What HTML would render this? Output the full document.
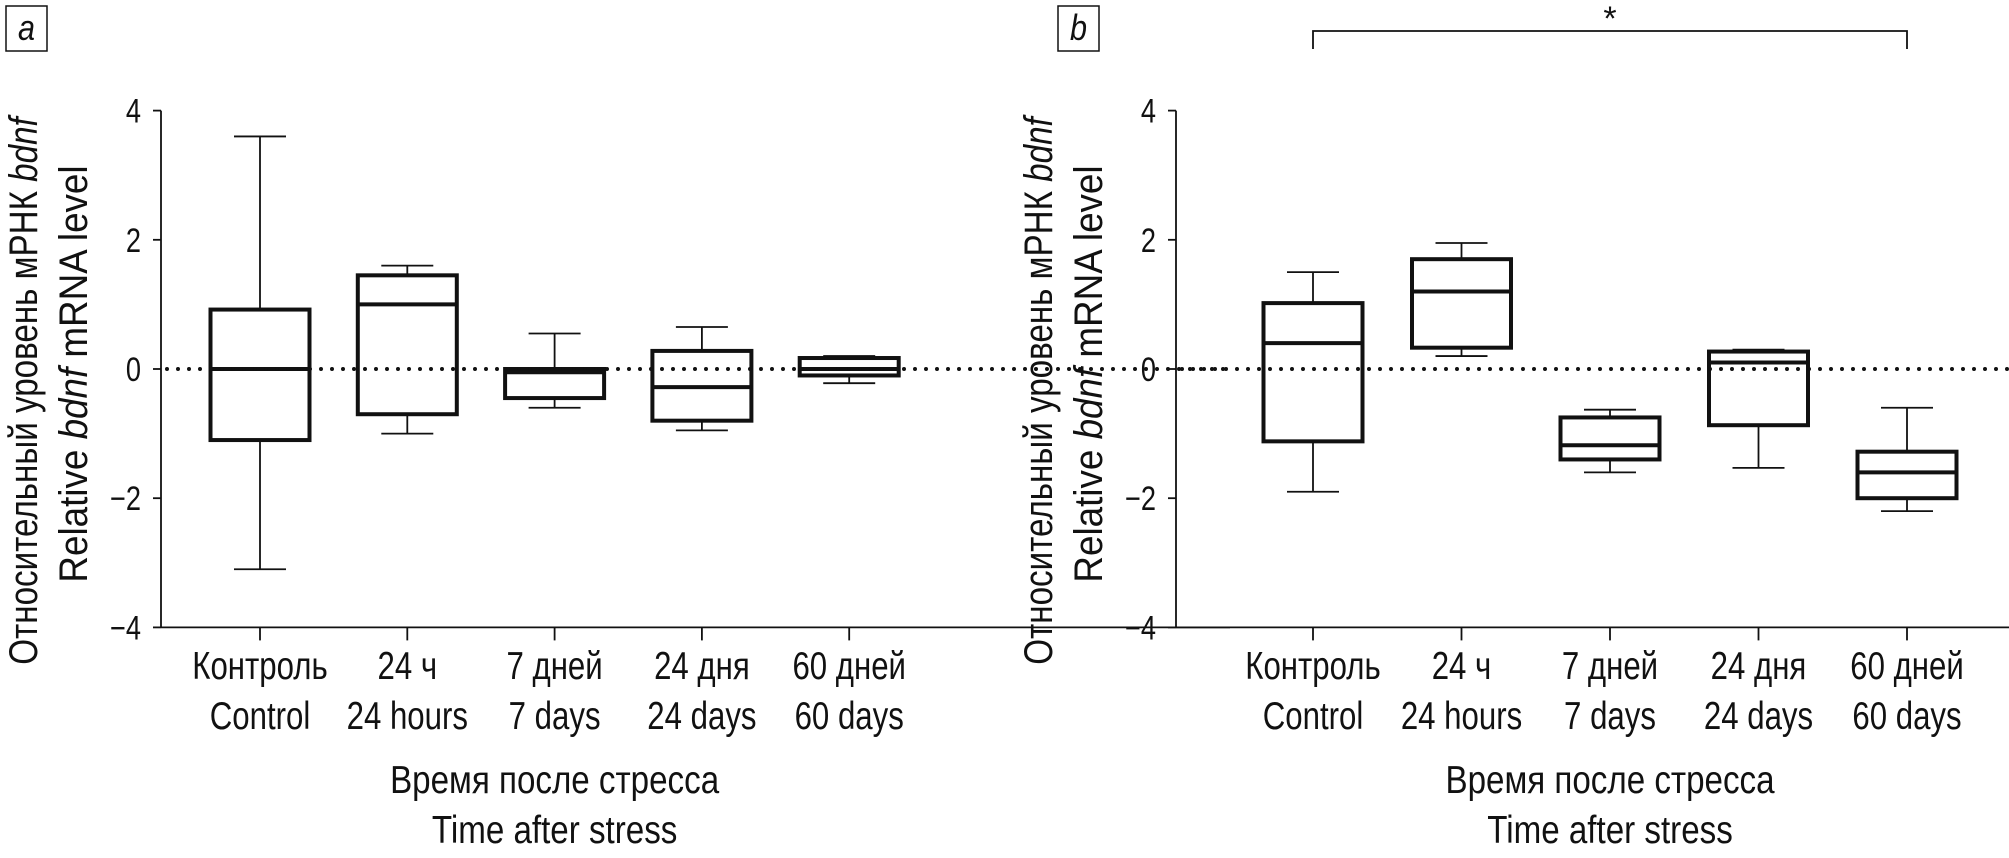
<!DOCTYPE html>
<html><head><meta charset="utf-8"><style>
html,body{margin:0;padding:0;background:#fff}
svg text{font-family:"Liberation Sans","DejaVu Sans",sans-serif;fill:#111}
</style></head><body>
<svg id="chart" width="2009" height="853" xmlns="http://www.w3.org/2000/svg"></svg>
<script>
const categoriesRu=["Контроль","24 ч","7 дней","24 дня","60 дней"];
const categoriesEn=["Control","24 hours","7 days","24 days","60 days"];
const yTicks=[4,2,0,-2,-4];
const yTickLabels=["4","2","0","\u22122","\u22124"];
// panel a: [min, q1, median, q3, max]
const aMin=[-3.1,-1.0,-0.6,-0.95,-0.22];
const aQ1=[-1.1,-0.7,-0.45,-0.8,-0.1];
const aMed=[0,1.0,-0.05,-0.28,0.0];
const aQ3=[0.92,1.45,0.0,0.28,0.17];
const aMax=[3.6,1.6,0.55,0.65,0.2];
// panel b
const bMin=[-1.9,0.2,-1.6,-1.53,-2.2];
const bQ1=[-1.12,0.33,-1.4,-0.87,-2.0];
const bMed=[0.4,1.2,-1.18,0.1,-1.6];
const bQ3=[1.02,1.7,-0.75,0.27,-1.28];
const bMax=[1.5,1.95,-0.63,0.3,-0.6];

const NS="http://www.w3.org/2000/svg";
const svg=document.getElementById('chart');
function mk(tag,attrs,parent,txt){const e=document.createElementNS(NS,tag);for(const k in attrs)e.setAttribute(k,attrs[k]);if(txt!==undefined)e.textContent=txt;(parent||svg).appendChild(e);return e;}
function tx(parent,x,y,size,anchor,sx,rot,str,html){
  const t=mk('text',{x:0,y:0,'font-size':size,'text-anchor':anchor,transform:`translate(${x} ${y})${rot?' rotate(-90)':''} scale(${sx} 1)`},parent);
  if(html)t.innerHTML=str;else t.textContent=str;
  return t;
}
const SX=0.8;
const Y0=369,UNIT=64.6;
function ys(v){return Y0-v*UNIT;}

function panel(id,axisX,rightX,firstCat,step,mins,q1s,meds,q3s,maxs,label,labelX){
  const g=mk('g',{});
  
  
  function xa(i){return firstCat+i*step;}
  const lb=mk('rect',{x:labelX,y:6,width:41,height:45,fill:'none',stroke:'#111','stroke-width':1.5},g);
  
  
  const lt=tx(g,labelX+20.5,40,36,'middle',0.85,false,label);
  lt.setAttribute('font-style','italic');
  
  
  const ya=mk('line',{x1:axisX,y1:ys(4),x2:axisX,y2:ys(-4),stroke:'#111','stroke-width':1.8},g);
  
  
  yTicks.forEach((t,i)=>{
    const tk=mk('line',{x1:axisX-8,y1:ys(t),x2:axisX,y2:ys(t),stroke:'#111','stroke-width':1.8},g);
    
    
    const tl=tx(g,axisX-20,ys(t)+12,34,'end',SX,false,yTickLabels[i]);
    
    
  });
  const xax=mk('line',{x1:axisX,y1:ys(-4),x2:rightX,y2:ys(-4),stroke:'#111','stroke-width':1.8},g);
  
  
  const t1=tx(g,axisX-124,391,40,'middle',0.83,true,'Относительный уровень мРНК <tspan font-style="italic">bdnf</tspan>',true);
  
  
  const t2=tx(g,axisX-74,374,40,'middle',0.92,true,'Relative <tspan font-style="italic">bdnf</tspan> mRNA level',true);
  
  
  categoriesRu.forEach((c,i)=>{
    const x=xa(i);
    const tk=mk('line',{x1:x,y1:ys(-4),x2:x,y2:ys(-4)+13,stroke:'#111','stroke-width':1.8},g);
    
    
    const l1=tx(g,x,679,39,'middle',SX,false,c);
    
    
    const l2=tx(g,x,729,39,'middle',SX,false,categoriesEn[i]);
    
    
    const bw=99,cw=52;
    const wl=mk('line',{x1:x,y1:ys(maxs[i]),x2:x,y2:ys(mins[i]),stroke:'#111','stroke-width':1.8},g);
    
    
    [mins[i],maxs[i]].forEach(v=>{
      const cap=mk('line',{x1:x-cw/2,y1:ys(v),x2:x+cw/2,y2:ys(v),stroke:'#111','stroke-width':1.8},g);
      
      
    });
    const bx=mk('rect',{x:x-bw/2,y:ys(q3s[i]),width:bw,height:ys(q1s[i])-ys(q3s[i]),fill:'#fff',stroke:'#111','stroke-width':4},g);
    
    
    const md=mk('line',{x1:x-bw/2,y1:ys(meds[i]),x2:x+bw/2,y2:ys(meds[i]),stroke:'#111','stroke-width':4},g);
    
    
  });
  const zl=mk('line',{x1:axisX+6,y1:ys(0),x2:rightX,y2:ys(0),stroke:'#111','stroke-width':4,'stroke-dasharray':'0 11','stroke-linecap':'round'},g);
  
  
  const cx=xa(2);
  const x1=tx(g,cx,793,39,'middle',0.85,false,'Время после стресса');
  
  
  const x2=tx(g,cx,843,39,'middle',0.85,false,'Time after stress');
  
  
  return xa;
}
panel('a',161,1230,260,147.3,aMin,aQ1,aMed,aQ3,aMax,'a',6);
const xb=panel('b',1176,2009,1313,148.5,bMin,bQ1,bMed,bQ3,bMax,'b',1058);
const br=mk('path',{d:`M${xb(0)} 49 V31 H${xb(4)} V49`,fill:'none',stroke:'#111','stroke-width':1.8});


const st=mk('text',{x:xb(2),y:30,'text-anchor':'middle','font-size':34},svg,'*');


</script>
</body></html>
